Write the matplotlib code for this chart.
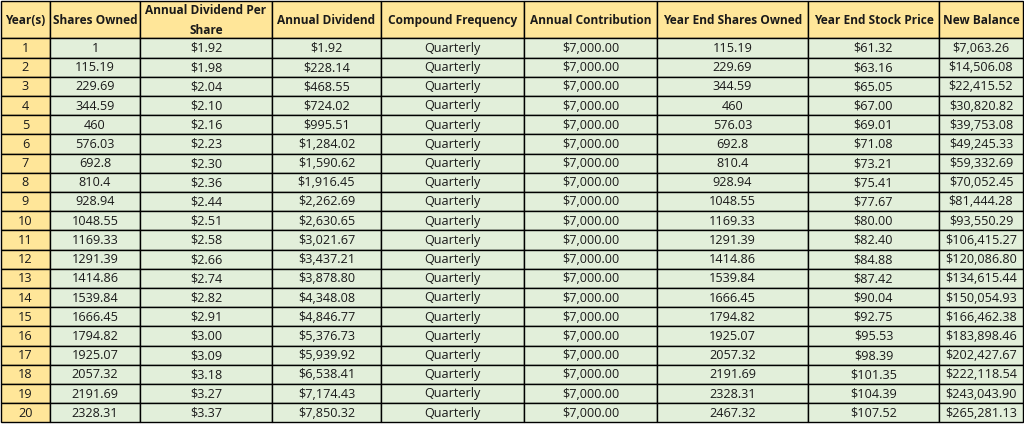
import matplotlib
matplotlib.use("Agg")
import matplotlib.pyplot as plt
from matplotlib.patches import Rectangle

headers = ["Year(s)", "Shares Owned", "Annual Dividend Per\nShare", "Annual Dividend",
           "Compound Frequency", "Annual Contribution", "Year End Shares Owned",
           "Year End Stock Price", "New Balance"]

years = list(range(1, 21))
shares_owned = ["1", "115.19", "229.69", "344.59", "460", "576.03", "692.8", "810.4",
                "928.94", "1048.55", "1169.33", "1291.39", "1414.86", "1539.84",
                "1666.45", "1794.82", "1925.07", "2057.32", "2191.69", "2328.31"]
div_per_share = [1.92, 1.98, 2.04, 2.10, 2.16, 2.23, 2.30, 2.36, 2.44, 2.51,
                 2.58, 2.66, 2.74, 2.82, 2.91, 3.00, 3.09, 3.18, 3.27, 3.37]
annual_dividend = [1.92, 228.14, 468.55, 724.02, 995.51, 1284.02, 1590.62, 1916.45,
                   2262.69, 2630.65, 3021.67, 3437.21, 3878.80, 4348.08, 4846.77,
                   5376.73, 5939.92, 6538.41, 7174.43, 7850.32]
frequency = ["Quarterly"] * 20
contribution = [7000.00] * 20
end_shares = ["115.19", "229.69", "344.59", "460", "576.03", "692.8", "810.4", "928.94",
              "1048.55", "1169.33", "1291.39", "1414.86", "1539.84", "1666.45",
              "1794.82", "1925.07", "2057.32", "2191.69", "2328.31", "2467.32"]
end_price = [61.32, 63.16, 65.05, 67.00, 69.01, 71.08, 73.21, 75.41, 77.67, 80.00,
             82.40, 84.88, 87.42, 90.04, 92.75, 95.53, 98.39, 101.35, 104.39, 107.52]
new_balance = [7063.26, 14506.08, 22415.52, 30820.82, 39753.08, 49245.33, 59332.69,
               70052.45, 81444.28, 93550.29, 106415.27, 120086.80, 134615.44,
               150054.93, 166462.38, 183898.46, 202427.67, 222118.54, 243043.90,
               265281.13]

col_widths = [49, 90, 132, 109, 143, 133, 151, 131, 84]
header_h = 38.3
row_h = 19.2

orange = "#FFE699"
green = "#E2EFDA"
text_color = "#1a1a1a"


def money(v):
    return "${:,.2f}".format(v)


rows = []
for i in range(20):
    rows.append([str(years[i]), shares_owned[i], money(div_per_share[i]),
                 money(annual_dividend[i]), frequency[i], money(contribution[i]),
                 end_shares[i], money(end_price[i]), money(new_balance[i])])

fig = plt.figure(figsize=(10.24, 4.24), dpi=100)
ax = fig.add_axes([0, 0, 1, 1])
ax.set_xlim(0, 1024)
ax.set_ylim(424, 0)
ax.axis("off")

xs = [1]
for w in col_widths:
    xs.append(xs[-1] + w)

font = ["Open Sans", "DejaVu Sans"]

# header
for c, h in enumerate(headers):
    ax.add_patch(Rectangle((xs[c], 1), col_widths[c], header_h - 1,
                           facecolor=orange, edgecolor="black", linewidth=1.0))
    ax.text(xs[c] + col_widths[c] / 2, (1 + header_h) / 2 + 0.8, h, ha="center",
            va="center", fontsize=8.6, fontweight="bold", color=text_color,
            family=font, linespacing=1.7)

# body
for r, row in enumerate(rows):
    y0 = header_h + r * row_h
    for c, val in enumerate(row):
        fc = orange if c == 0 else green
        ax.add_patch(Rectangle((xs[c], y0), col_widths[c], row_h,
                               facecolor=fc, edgecolor="black", linewidth=1.0))
        ax.text(xs[c] + col_widths[c] / 2, y0 + row_h / 2 + 0.5, val, ha="center",
                va="center", fontsize=9.1, color=text_color, family=font)

fig.savefig("out.png", dpi=100, facecolor="white")
